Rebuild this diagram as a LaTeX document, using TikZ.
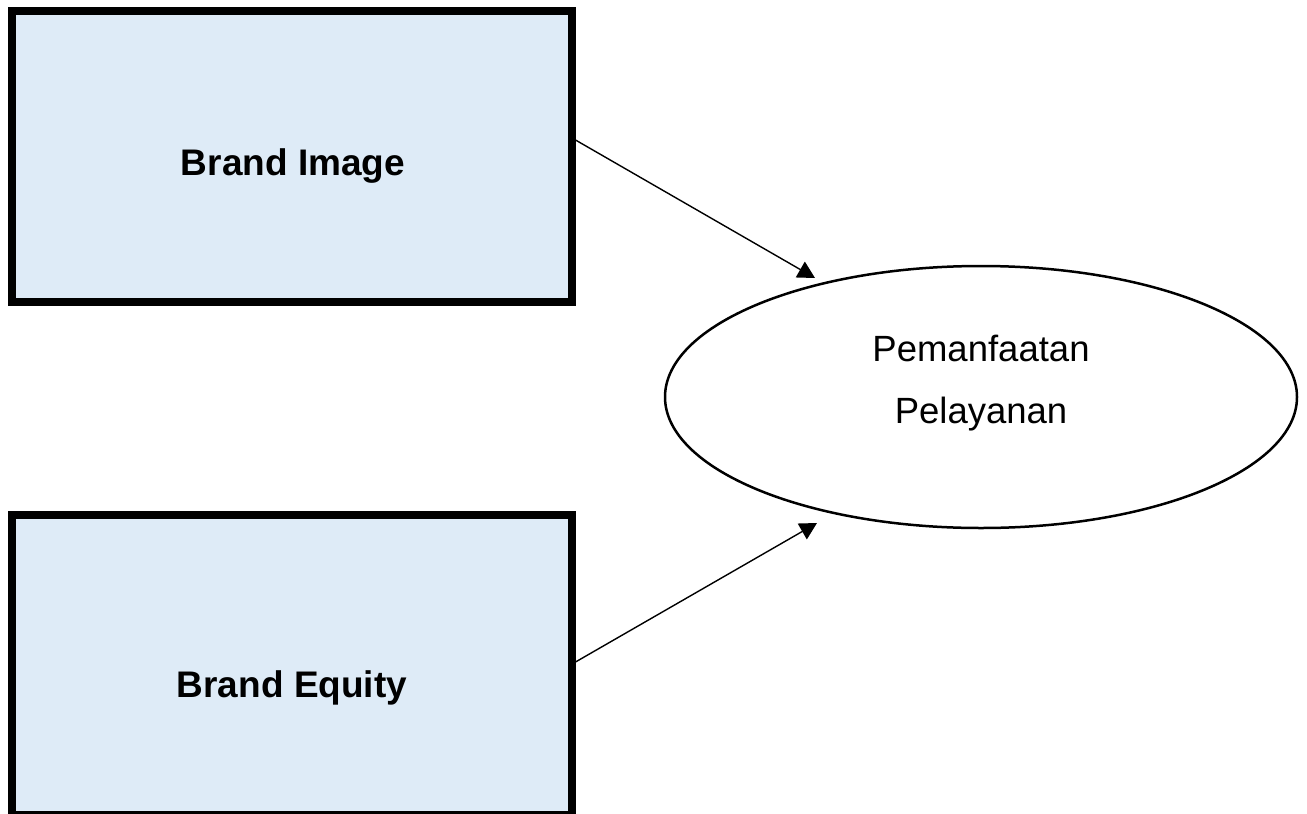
\documentclass[tikz,border=0pt]{standalone}
\usepackage{fontspec}
\setmainfont{Liberation Sans}
\usetikzlibrary{arrows.meta,shapes.geometric}
\definecolor{boxfill}{RGB}{222,235,247}
\tikzset{
  varbox/.style={draw=black, fill=boxfill, line width=8pt, rectangle, inner sep=0pt},
  boxlabel/.style={anchor=base, inner sep=0pt, font=\fontsize{37}{40}\selectfont\bfseries},
  outcome/.style={draw=black, line width=2.5pt, ellipse, inner sep=0pt, minimum width=632pt, minimum height=262pt},
  outlabel/.style={anchor=base, inner sep=0pt, font=\fontsize{36.5}{40}\selectfont},
  arr/.style={line width=1.4pt, -{Triangle[length=17pt,width=18pt]}}
}
\begin{document}
\begin{tikzpicture}[x=1pt,y=-1pt]
\clip (0,0) rectangle (1307,814);
\fill[white] (0,0) rectangle (1307,814);
\node[varbox, minimum width=559.5pt, minimum height=291pt] (img) at (291.75,156.5) {};
\node[boxlabel] (imgtxt) at (293,175) {Brand Image};
\node[varbox, minimum width=559.5pt, minimum height=300.5pt] (eq) at (291.75,664.75) {};
\node[boxlabel] (eqtxt) at (292,697) {Brand Equity};
\node[outcome] (pp) at (981,397) {};
\node[outlabel] (pptxt1) at (981,361) {Pemanfaatan};
\node[outlabel] (pptxt2) at (981,423) {Pelayanan};
\coordinate (t1) at (815,278);
\coordinate (t2) at (817,523);
\draw[arr] (img.east |- 0,140) -- (t1);
\draw[arr] (eq.east |- 0,662) -- (t2);
\end{tikzpicture}
\end{document}
